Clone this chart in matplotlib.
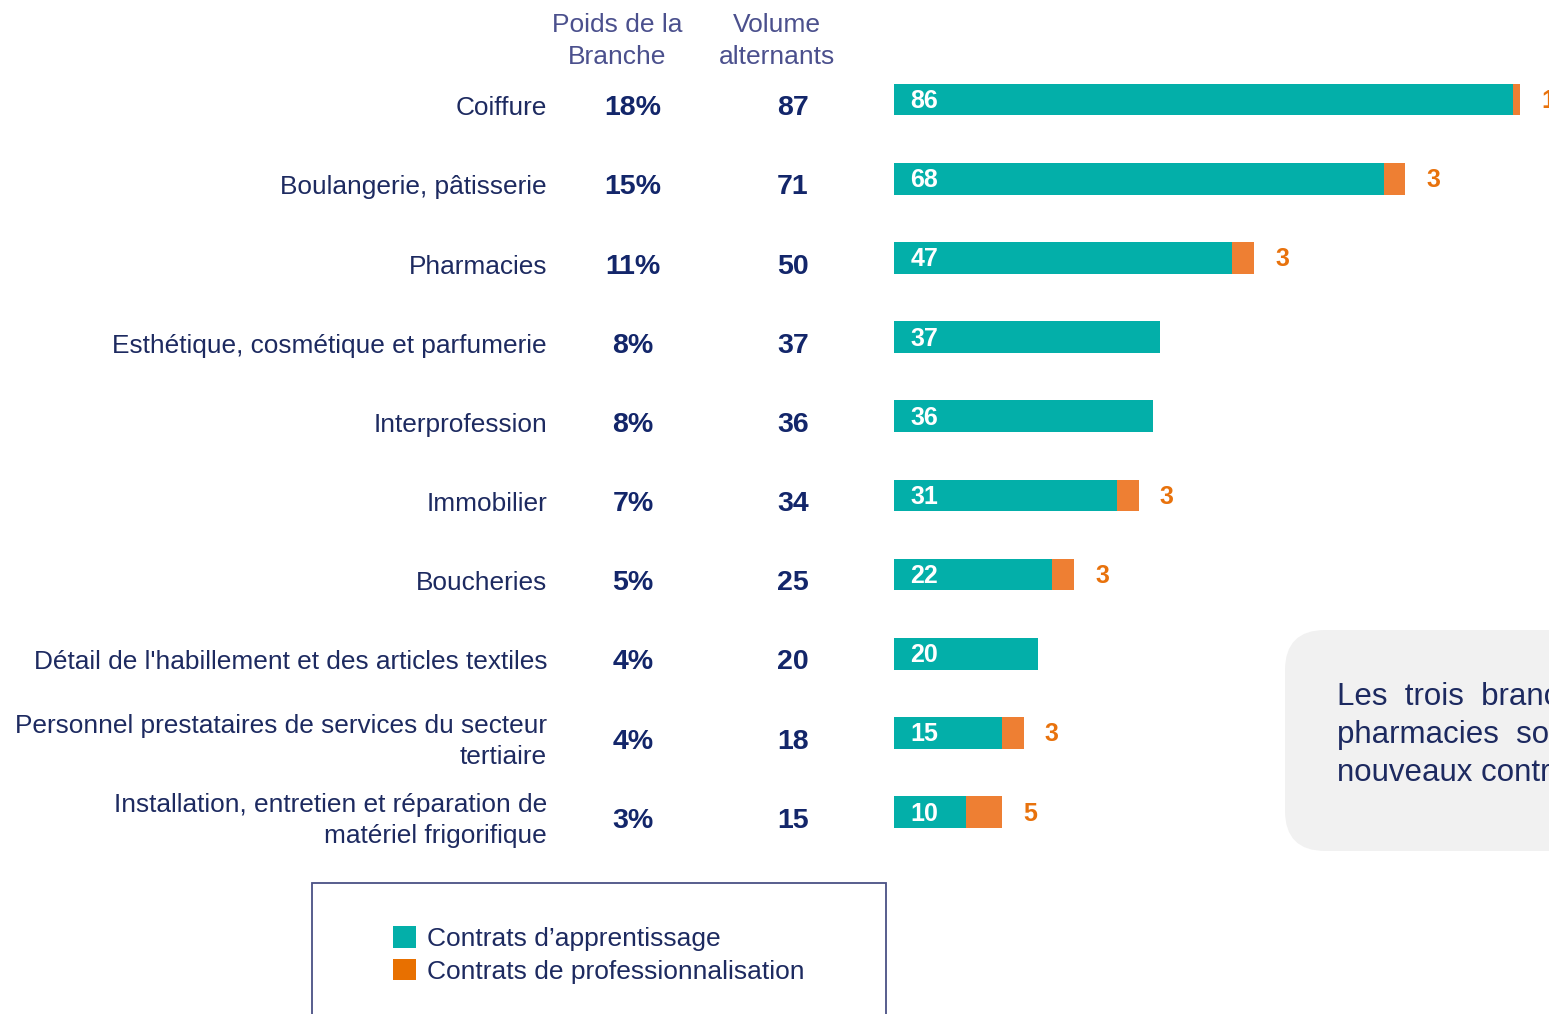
import matplotlib.pyplot as plt
import matplotlib.transforms as mtransforms
from matplotlib.patches import Patch, Rectangle, FancyBboxPatch

plt.rcParams["font.family"] = ["Liberation Sans", "DejaVu Sans"]

# data
branches = [
    "Coiffure",
    "Boulangerie, pâtisserie",
    "Pharmacies",
    "Esthétique, cosmétique et parfumerie",
    "Interprofession",
    "Immobilier",
    "Boucheries",
    "Détail de l'habillement et des articles textiles",
    "Personnel prestataires de services du secteur\ntertiaire",
    "Installation, entretien et réparation de\nmatériel frigorifique",
]
poids = ["18%", "15%", "11%", "8%", "8%", "7%", "5%", "4%", "4%", "3%"]
volume = [87, 71, 50, 37, 36, 34, 25, 20, 18, 15]
apprentissage = [86, 68, 47, 37, 36, 31, 22, 20, 15, 10]
professionnalisation = [1, 3, 3, 0, 0, 3, 3, 0, 3, 5]

TEAL = "#03AFA9"
ORANGE = "#EE7F33"
ORANGE_TXT = "#E8720C"
NAVY = "#1D2A60"
NUM = "#13266A"
HEAD = "#4B508D"

W, H = 1549, 1014
fig = plt.figure(figsize=(W / 100, H / 100), dpi=100)

# bar axes: rows 79.17 px apart, first bar centred at 99.5 px, 7.2 px per unit
row_px = 79.17
ax = fig.add_axes([894 / W, 0, 1 - 894 / W, 1])
ax.set_xlim(0, (W - 894) / 7.2)
ax.set_ylim((H - 99.5) / row_px, -99.5 / row_px)
ax.axis("off")

ypos = list(range(len(branches)))
ax.barh(ypos, apprentissage, height=0.40, color=TEAL)
ax.barh(ypos, professionnalisation, left=apprentissage, height=0.40, color=ORANGE)

for y, a, p in zip(ypos, apprentissage, professionnalisation):
    ax.text(2.3, y + 0.02, str(a), color="white", fontsize=18, fontweight="bold",
            ha="left", va="center")
    if p:
        ax.text(a + p + 3.9, y + 0.02, str(p), color=ORANGE_TXT, fontsize=18,
                fontweight="bold", ha="center", va="center", clip_on=False)

# text columns
trans = mtransforms.blended_transform_factory(fig.transFigure, ax.transData)
for y, b, pc, v in zip(ypos, branches, poids, volume):
    ax.text(547 / W, y + 0.11, b, transform=trans, ha="right", va="center",
            fontsize=18.9, color=NAVY, linespacing=1.35)
    ax.text(633 / W, y + 0.11, pc, transform=trans, ha="center", va="center",
            fontsize=20.5, fontweight="bold", color=NUM)
    ax.text(793 / W, y + 0.11, str(v), transform=trans, ha="center", va="center",
            fontsize=20.5, fontweight="bold", color=NUM)

fig.text(617 / W, 1 - 41 / H, "Poids de la\nBranche", ha="center", va="center",
         fontsize=19, color=HEAD, linespacing=1.45)
fig.text(777 / W, 1 - 41 / H, "Volume\nalternants", ha="center", va="center",
         fontsize=19, color=HEAD, linespacing=1.45)

# legend frame and legend
fig.patches.append(Rectangle((312 / W, -0.05), (886 - 312) / W, 0.05 + 1 - 883 / H,
                             transform=fig.transFigure, fill=False,
                             edgecolor="#4A5185", linewidth=1.3))
handles = [Patch(facecolor=TEAL, edgecolor="none"),
           Patch(facecolor="#E87000", edgecolor="none")]
fig.legend(handles, ["Contrats d’apprentissage", "Contrats de professionnalisation"],
           loc="upper left", bbox_to_anchor=(393 / W, 1 - 926 / H),
           frameon=False, fontsize=19, handlelength=0.88, handleheight=0.88,
           handletextpad=0.42, labelspacing=0.3, borderpad=0, borderaxespad=0,
           labelcolor=NAVY)

# comment box (clipped at right edge)
fig.patches.append(FancyBboxPatch((1285 / W, 1 - 851 / H), 400 / W, 221 / H,
                                  boxstyle="round,pad=0,rounding_size=0.026",
                                  mutation_aspect=W / H, transform=fig.transFigure,
                                  facecolor="#F1F1F1", edgecolor="none"))
for i, line in enumerate(["Les  trois  branches  coiffure, boulangerie et",
                          "pharmacies  sont à l'origine de la moitié des",
                          "nouveaux contrats."]):
    fig.text(1337 / W, 1 - (697 + 38 * i) / H, line, ha="left", va="center",
             fontsize=22.5, color=NAVY)

fig.savefig("out.png", dpi=100)
